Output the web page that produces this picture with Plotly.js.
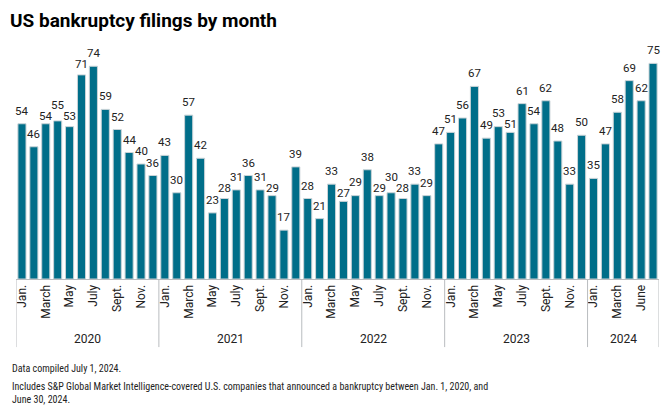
<!DOCTYPE html>
<html>
<head>
<meta charset="utf-8">
<script src="https://cdn.plot.ly/plotly-3.0.1.min.js"></script>
<style>html,body{margin:0;padding:0;background:#fff;}#chart{width:666px;height:408px;}</style>
</head>
<body>
<div id="chart"></div>
<script>
const years = [2020, 2021, 2022, 2023, 2024];
const values2020 = [54, 46, 54, 55, 53, 71, 74, 59, 52, 44, 40, 36];
const values2021 = [43, 30, 57, 42, 23, 28, 31, 36, 31, 29, 17, 39];
const values2022 = [28, 21, 33, 27, 29, 38, 29, 30, 28, 33, 29, 47];
const values2023 = [51, 56, 67, 49, 53, 51, 61, 54, 62, 48, 33, 50];
const values2024 = [35, 47, 58, 69, 62, 75];
// tick labels as shown, with the bar (month slot within the year) each one sits under
const tickText2020to2023 = ["Jan.", "March", "May", "July", "Sept.", "Nov."];
const tickSlot2020to2023 = [0, 2, 4, 6, 8, 10];
const tickText2024 = ["Jan.", "March", "June"];
const tickSlot2024 = [0, 2, 4];

const yearValues = [values2020, values2021, values2022, values2023, values2024];
const xs = [], ys = [], tickvals = [], ticktext = [];
const yearStarts = [];
let idx = 0;
yearValues.forEach((vals, yi) => {
  yearStarts.push(idx);
  const last = yi === yearValues.length - 1;
  const tText = last ? tickText2024 : tickText2020to2023;
  const tSlot = last ? tickSlot2024 : tickSlot2020to2023;
  tSlot.forEach((s, k) => { tickvals.push(idx + s); ticktext.push(tText[k]); });
  vals.forEach(v => { xs.push(idx); ys.push(v); idx++; });
});
const total = idx;

// layout geometry
const H = 408, W = 666;
const mT = 49, mB = 129, mL = 16, mR = 7;
const yMax = 80;
const plotH = H - mT - mB;
const pxPerUnit = plotH / yMax;

// label placement: base gap, resolve collisions between neighbours
const baseShift = 5, minShift = 0, sepNeeded = 11;
const shift = ys.map(() => baseShift);
for (let pass = 0; pass < 30; pass++) {
  let moved = false;
  for (let i = 0; i < ys.length - 1; i++) {
    const bi = ys[i] * pxPerUnit + shift[i];
    const bj = ys[i + 1] * pxPerUnit + shift[i + 1];
    const d = Math.abs(bi - bj);
    if (d < sepNeeded - 0.01) {
      let deficit = sepNeeded - d;
      const lo = bi < bj ? i : i + 1;
      const hi = lo === i ? i + 1 : i;
      const down = Math.min(deficit, shift[lo] - minShift);
      shift[lo] -= down; deficit -= down;
      shift[hi] += deficit;
      moved = true;
    }
  }
  if (!moved) break;
}

const shapes = [];
const annotations = [];
const sepColor = '#b9bcbf';
const bounds = yearStarts.concat([total]);
bounds.forEach(b => {
  shapes.push({type: 'line', xref: 'x', yref: 'paper', x0: b - 0.5, x1: b - 0.5, y0: 0, y1: -0.296,
    line: {color: sepColor, width: 1}});
});
years.forEach((y, i) => {
  const mid = (bounds[i] + bounds[i + 1] - 1) / 2;
  annotations.push({x: mid, xref: 'x', y: -0.26, yref: 'paper', text: String(y), showarrow: false,
    font: {family: 'Roboto, sans-serif', size: 12, color: '#222'}, yanchor: 'middle'});
});
xs.forEach((x, i) => {
  annotations.push({x: x, y: ys[i], xref: 'x', yref: 'y', text: String(ys[i]), showarrow: false,
    yanchor: 'bottom', yshift: shift[i], borderpad: 0,
    font: {family: 'Roboto, sans-serif', size: 11.5, color: '#222'}});
});
const noteFont = {family: '"Liberation Sans Narrow", "Roboto Condensed", Roboto, sans-serif', size: 10, color: '#222'};
annotations.push({xref: 'paper', yref: 'paper', x: -6/643, y: (279-368)/230, xanchor: 'left', yanchor: 'middle', align: 'left',
  text: 'Data compiled July 1, 2024.', showarrow: false, font: noteFont});
annotations.push({xref: 'paper', yref: 'paper', x: -6/643, y: (279-392.5)/230, xanchor: 'left', yanchor: 'middle', align: 'left',
  text: 'Includes S&amp;P Global Market Intelligence-covered U.S. companies that announced a bankruptcy between Jan. 1, 2020, and<br>June 30, 2024.',
  showarrow: false, font: noteFont});

const trace = {
  type: 'bar', x: xs, y: ys,
  marker: {color: '#006e89', line: {color: '#c9d3d7', width: 1}},
  hoverinfo: 'x+y'
};

const layout = {
  width: W, height: H,
  margin: {l: mL, r: mR, t: mT, b: mB},
  paper_bgcolor: '#fff', plot_bgcolor: '#fff',
  bargap: 0.32,
  showlegend: false,
  title: {text: '<b>US bankruptcy filings by month</b>', xref: 'container', yref: 'container', x: 10/666, xanchor: 'left',
    y: 1 - 20/408, yanchor: 'middle', font: {family: 'Roboto, sans-serif', size: 19, color: '#000'}},
  xaxis: {range: [-0.5, total - 0.5], tickmode: 'array', tickvals: tickvals, ticktext: ticktext, tickangle: -90,
    showgrid: false, zeroline: false, showline: true, linecolor: sepColor, linewidth: 1, ticks: '',
    tickfont: {family: 'Roboto, sans-serif', size: 12, color: '#222'}, fixedrange: true},
  yaxis: {range: [0, yMax], visible: false, fixedrange: true},
  shapes: shapes,
  annotations: annotations
};

Plotly.newPlot('chart', [trace], layout, {displayModeBar: false, staticPlot: true});
</script>
</body>
</html>
